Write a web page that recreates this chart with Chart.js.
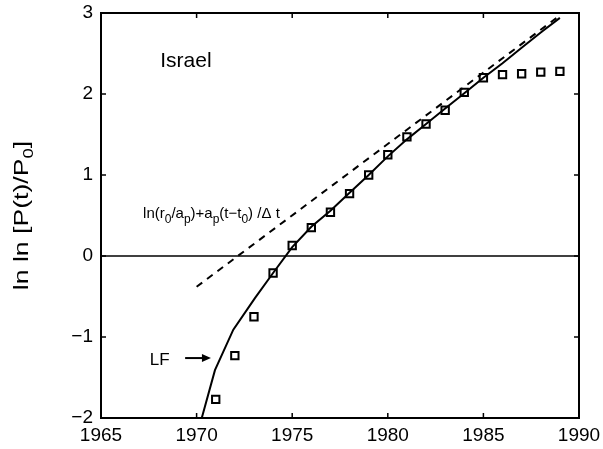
<!DOCTYPE html>
<html lang="en">
<head>
    <meta charset="UTF-8">
    <title>Israel - ln ln [P(t)/P0]</title>
    <script src="https://cdn.jsdelivr.net/npm/chart.js"></script>
    <style>
        body {
            margin: 0;
            background-color: #fff;
        }
        canvas {
            display: block;
        }
    </style>
</head>
<body>
    <canvas id="israelChart" width="603" height="449"></canvas>

    <script>
        // Dados
        const years = [1971, 1972, 1973, 1974, 1975, 1976, 1977, 1978, 1979, 1980,
                       1981, 1982, 1983, 1984, 1985, 1986, 1987, 1988, 1989];
        const observed = [-1.77, -1.23, -0.75, -0.21, 0.13, 0.35, 0.54, 0.77, 1.0, 1.25,
                          1.47, 1.63, 1.80, 2.02, 2.20, 2.24, 2.25, 2.27, 2.28];

        // Curva LF (linha contínua)
        const lfX = [1970.27, 1970.96, 1971.92, 1973.05, 1974.0, 1975.0, 1976, 1977, 1978, 1979,
                     1980, 1981, 1982, 1983, 1984, 1985, 1986, 1987, 1988, 1989];
        const lfY = [-2.0, -1.41, -0.91, -0.52, -0.21, 0.11, 0.36, 0.56, 0.78, 1.0,
                     1.23, 1.44, 1.63, 1.82, 2.01, 2.20, 2.38, 2.57, 2.76, 2.94];

        // Reta tracejada
        const fitX = [1970, 1989];
        const fitY = [-0.38, 2.97];

        // Linha do zero
        const zeroX = [1965, 1990];
        const zeroY = [0, 0];

        const xTicks = [1965, 1970, 1975, 1980, 1985, 1990];
        const yTicks = [-2, -1, 0, 1, 2, 3];

        const toPoints = (xs, ys) => xs.map((x, i) => ({ x: x, y: ys[i] }));
        const FONT = '"Liberation Sans", Arial, Helvetica, sans-serif';

        // Moldura, marcas internas e textos
        const decorations = {
            id: 'decorations',
            afterDraw(chart) {
                const ctx = chart.ctx;
                const a = chart.chartArea;
                const xs = chart.scales.x;
                const ys = chart.scales.y;
                const tl = 5;
                ctx.save();
                ctx.strokeStyle = '#000';
                ctx.fillStyle = '#000';

                // marcas
                ctx.lineWidth = 1.5;
                ctx.beginPath();
                xTicks.forEach(v => {
                    const px = xs.getPixelForValue(v);
                    ctx.moveTo(px, a.bottom); ctx.lineTo(px, a.bottom - tl);
                    ctx.moveTo(px, a.top); ctx.lineTo(px, a.top + tl);
                });
                yTicks.forEach(v => {
                    const py = ys.getPixelForValue(v);
                    ctx.moveTo(a.left, py); ctx.lineTo(a.left + tl, py);
                    ctx.moveTo(a.right, py); ctx.lineTo(a.right - tl, py);
                });
                ctx.stroke();

                // moldura
                ctx.lineWidth = 2;
                ctx.strokeRect(a.left, a.top, a.right - a.left, a.bottom - a.top);

                // Israel
                ctx.textBaseline = 'alphabetic';
                ctx.textAlign = 'left';
                ctx.font = '21px ' + FONT;
                ctx.fillText('Israel', xs.getPixelForValue(1968.1), ys.getPixelForValue(2.33));

                // fórmula com subscritos
                const parts = [
                    ['ln(r', false], ['0', true], ['/a', false], ['p', true], [')+a', false],
                    ['p', true], ['(t\u2212t', false], ['0', true], [') /\u0394 t', false]
                ];
                let fx = xs.getPixelForValue(1967.2);
                const fy = ys.getPixelForValue(0.47);
                parts.forEach(([txt, sub]) => {
                    ctx.font = (sub ? '12px ' : '15px ') + FONT;
                    ctx.fillText(txt, fx, sub ? fy + 5 : fy);
                    fx += ctx.measureText(txt).width;
                });

                // LF e seta
                ctx.font = '17px ' + FONT;
                ctx.fillText('LF', xs.getPixelForValue(1967.55), ys.getPixelForValue(-1.35));
                const ax0 = xs.getPixelForValue(1969.4);
                const ax1 = xs.getPixelForValue(1970.75);
                const ay = ys.getPixelForValue(-1.26);
                ctx.lineWidth = 2;
                ctx.beginPath();
                ctx.moveTo(ax0, ay); ctx.lineTo(ax1 - 6, ay);
                ctx.stroke();
                ctx.beginPath();
                ctx.moveTo(ax1, ay); ctx.lineTo(ax1 - 9, ay - 4); ctx.lineTo(ax1 - 9, ay + 4);
                ctx.closePath();
                ctx.fill();

                // título do eixo y (rotacionado, com subscrito)
                const cy = (a.top + a.bottom) / 2;
                ctx.translate(28, cy);
                ctx.rotate(-Math.PI / 2);
                ctx.scale(1.33, 1);
                const tParts = [['ln ln [P(t)/P', false], ['0', true], [']', false]];
                let total = 0;
                tParts.forEach(([txt, sub]) => {
                    ctx.font = (sub ? '14px ' : '20px ') + FONT;
                    total += ctx.measureText(txt).width;
                });
                let tx = -total / 2;
                tParts.forEach(([txt, sub]) => {
                    ctx.font = (sub ? '14px ' : '20px ') + FONT;
                    ctx.fillText(txt, tx, sub ? 5 : 0);
                    tx += ctx.measureText(txt).width;
                });
                ctx.restore();
            }
        };

        const noPad = s => {
            s.paddingTop = 0; s.paddingBottom = 0;
            s.paddingLeft = 0; s.paddingRight = 0;
        };

        const ctx = document.getElementById('israelChart').getContext('2d');
        new Chart(ctx, {
            type: 'scatter',
            data: {
                datasets: [
                    {
                        label: 'zero',
                        data: toPoints(zeroX, zeroY),
                        showLine: true,
                        borderColor: '#000',
                        borderWidth: 1.3,
                        pointRadius: 0
                    },
                    {
                        label: 'ajuste',
                        data: toPoints(fitX, fitY),
                        showLine: true,
                        borderColor: '#000',
                        borderWidth: 2,
                        borderDash: [7, 6],
                        pointRadius: 0
                    },
                    {
                        label: 'LF',
                        data: toPoints(lfX, lfY),
                        showLine: true,
                        borderColor: '#000',
                        borderWidth: 2,
                        pointRadius: 0,
                        tension: 0
                    },
                    {
                        label: 'dados',
                        data: toPoints(years, observed),
                        showLine: false,
                        pointStyle: 'rect',
                        pointRadius: 5.2,
                        borderColor: '#000',
                        borderWidth: 2,
                        backgroundColor: 'rgba(0,0,0,0)'
                    }
                ]
            },
            options: {
                responsive: false,
                animation: false,
                layout: {
                    padding: { left: 0, right: 24, top: 13, bottom: 0 }
                },
                plugins: {
                    legend: { display: false },
                    tooltip: { enabled: false }
                },
                scales: {
                    x: {
                        type: 'linear',
                        min: 1965,
                        max: 1990,
                        afterFit: s => { s.height = 31; noPad(s); },
                        afterBuildTicks: s => { s.ticks = xTicks.map(v => ({ value: v })); },
                        grid: { display: false, drawTicks: false },
                        border: { display: false },
                        ticks: {
                            color: '#000',
                            padding: 6,
                            font: { family: FONT, size: 19 },
                            callback: v => String(v)
                        }
                    },
                    y: {
                        type: 'linear',
                        min: -2,
                        max: 3,
                        afterFit: s => { s.width = 101; noPad(s); },
                        afterBuildTicks: s => { s.ticks = yTicks.map(v => ({ value: v })); },
                        grid: { display: false, drawTicks: false },
                        border: { display: false },
                        ticks: {
                            color: '#000',
                            padding: 8,
                            font: { family: FONT, size: 19 },
                            callback: v => (v < 0 ? '\u2212' + Math.abs(v) : String(v))
                        }
                    }
                }
            },
            plugins: [decorations]
        });
    </script>
</body>
</html>
